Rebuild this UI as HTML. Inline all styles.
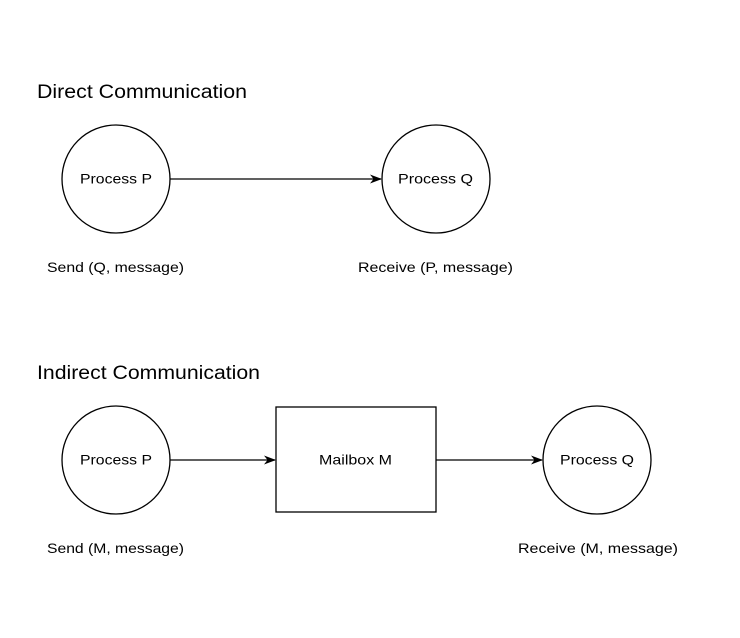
<!DOCTYPE html>
<html><head><style>html,body{margin:0;padding:0;background:#fff;}svg{display:block}</style></head>
<body>
<svg width="740" height="638" viewBox="0 0 740 638" xmlns="http://www.w3.org/2000/svg" font-family="Liberation Sans, Arial, sans-serif" fill="#000">
<defs><marker id="a" markerWidth="12" markerHeight="9" refX="11" refY="4.5" orient="auto" markerUnits="userSpaceOnUse"><path d="M0,0 L12,4.5 L0,9 L3.5,4.5 Z" fill="#000"/></marker></defs>
<text x="37" y="98" font-size="19" textLength="210" lengthAdjust="spacingAndGlyphs">Direct Communication</text>
<circle cx="116" cy="179" r="54" fill="#fff" stroke="#000" stroke-width="1.3"/>
<text x="80" y="183.5" font-size="14" textLength="72" lengthAdjust="spacingAndGlyphs">Process P</text>
<circle cx="436" cy="179" r="54" fill="#fff" stroke="#000" stroke-width="1.3"/>
<text x="398" y="183.5" font-size="14" textLength="75" lengthAdjust="spacingAndGlyphs">Process Q</text>
<line x1="170" y1="179" x2="381" y2="179" stroke="#000" stroke-width="1.3" marker-end="url(#a)"/>
<text x="47" y="272" font-size="14" textLength="137" lengthAdjust="spacingAndGlyphs">Send (Q, message)</text>
<text x="358" y="272" font-size="14" textLength="155" lengthAdjust="spacingAndGlyphs">Receive (P, message)</text>

<text x="37" y="379" font-size="19" textLength="223" lengthAdjust="spacingAndGlyphs">Indirect Communication</text>
<circle cx="116" cy="460" r="54" fill="#fff" stroke="#000" stroke-width="1.3"/>
<text x="80" y="464.5" font-size="14" textLength="72" lengthAdjust="spacingAndGlyphs">Process P</text>
<rect x="276" y="407" width="160" height="105" fill="#fff" stroke="#000" stroke-width="1.3"/>
<text x="319" y="464.5" font-size="14" textLength="73" lengthAdjust="spacingAndGlyphs">Mailbox M</text>
<circle cx="597" cy="460" r="54" fill="#fff" stroke="#000" stroke-width="1.3"/>
<text x="560" y="464.5" font-size="14" textLength="74" lengthAdjust="spacingAndGlyphs">Process Q</text>
<line x1="170" y1="460" x2="275" y2="460" stroke="#000" stroke-width="1.3" marker-end="url(#a)"/>
<line x1="436" y1="460" x2="542" y2="460" stroke="#000" stroke-width="1.3" marker-end="url(#a)"/>
<text x="47" y="553" font-size="14" textLength="137" lengthAdjust="spacingAndGlyphs">Send (M, message)</text>
<text x="518" y="553" font-size="14" textLength="160" lengthAdjust="spacingAndGlyphs">Receive (M, message)</text>
</svg>
</body></html>
